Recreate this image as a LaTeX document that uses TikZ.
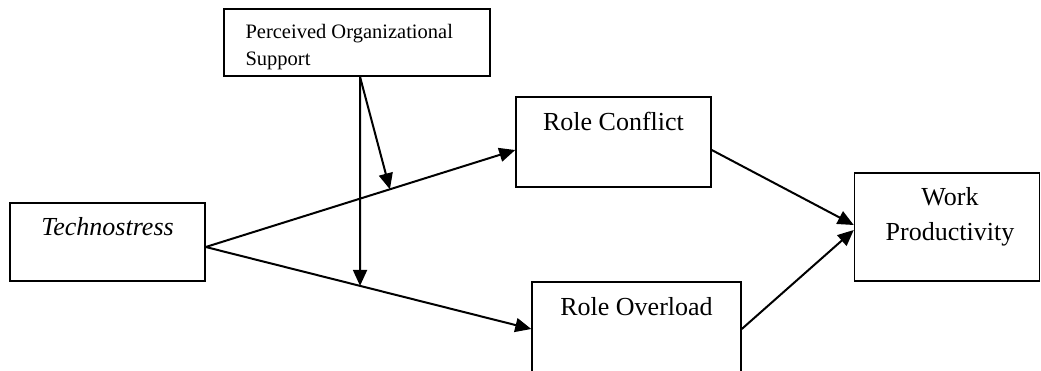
\documentclass[tikz,border=0pt]{standalone}
\usepackage{fontspec}
\setmainfont{Liberation Serif}
\usetikzlibrary{arrows.meta}

\begin{document}
\begin{tikzpicture}[x=1pt,y=-1pt,
	box/.style={draw, line width=1.5pt, inner sep=0pt},
	big/.style={font=\fontsize{26}{35}\selectfont, align=center},
	arr/.style={line width=2pt, -{Triangle[length=16pt,width=14pt]}}]
			\path[use as bounding box, clip] (0,0) rectangle (1041,370);
			% boxes
			\node[box, minimum width=266, minimum height=67] (pos) at (357,42.5) {};
			\node[box, minimum width=195, minimum height=78] (tech) at (107.5,242) {};
			\node[box, minimum width=195, minimum height=90] (conf) at (613.5,142) {};
			\node[box, minimum width=209, minimum height=94] (over) at (636.5,329) {};
			\node[box, minimum width=185, minimum height=108] (wp) at (947,227) {};
			% texts
			\node[font=\fontsize{20.5}{27}\selectfont, align=left, anchor=base west] (postxt) at (242,65) {Perceived Organizational\\Support};
			\node[big, anchor=base] (techtxt) at (107.5,235) {\itshape Technostress};
			\node[big, anchor=base] (conftxt) at (613.5,130) {Role Conflict};
			\node[big, anchor=base] (overtxt) at (636.5,315) {Role Overload};
			\node[big, anchor=base] (wptxt) at (950,240) {Work\\Productivity};
			% paths
			\draw[arr] ([yshift=-5pt]tech.east) -- ([yshift=-8pt]conf.west) coordinate[pos=0.595] (mod1);
			\draw[arr] ([yshift=-5pt]tech.east) -- (over.west) coordinate[pos=0.474] (mod2);
			\draw[arr] ([xshift=3pt]pos.south) -- (mod2);
			\draw[arr] ([xshift=3pt]pos.south) -- (mod1);
			\draw[arr] ([yshift=-8pt]conf.east) -- ([yshift=2pt]wp.west);
			\draw[arr] (over.east) -- ([yshift=-3pt]wp.west);
\end{tikzpicture}
\end{document}
